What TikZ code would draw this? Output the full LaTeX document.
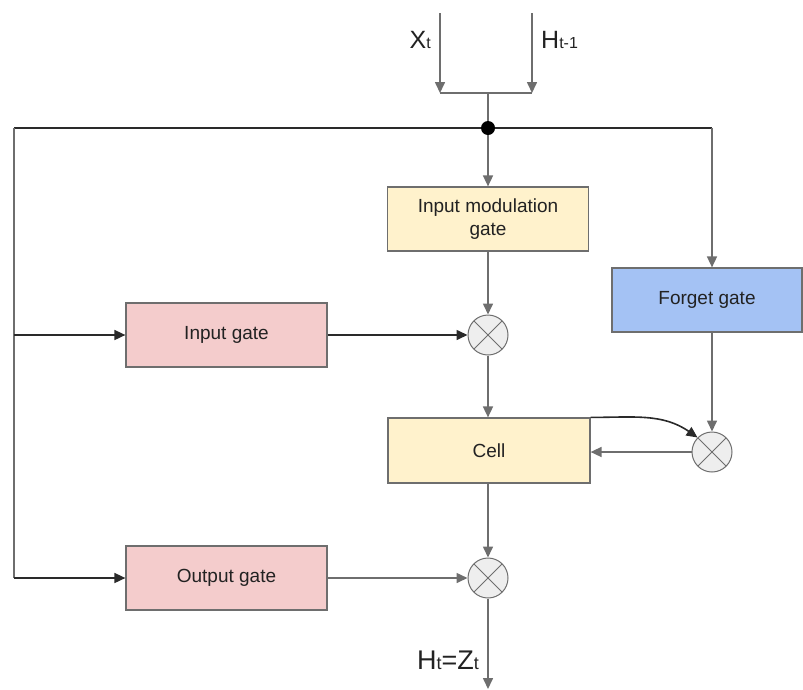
\documentclass[tikz,border=0pt]{standalone}
\usepackage{fontspec}
\setmainfont{Liberation Sans}
\usetikzlibrary{arrows.meta}
\definecolor{lgray}{HTML}{6E6E6E}
\definecolor{dgray}{HTML}{2A2A2A}
\definecolor{yel}{HTML}{FFF2CC}
\definecolor{pinkc}{HTML}{F4CCCC}
\definecolor{bluec}{HTML}{A4C2F4}
\definecolor{mulc}{HTML}{EEEEEE}
\definecolor{txt}{HTML}{222222}
\tikzset{
  box/.style={draw=lgray, line width=1.2pt, minimum width=201pt, minimum height=64pt, inner sep=0pt, align=center, text=txt, font=\fontsize{19}{23}\selectfont},
  mul/.style={circle, draw=lgray, fill=mulc, line width=1pt, minimum size=40pt, inner sep=0pt,
    path picture={\draw[lgray, line width=1pt] (path picture bounding box.north west) -- (path picture bounding box.south east)
      (path picture bounding box.north east) -- (path picture bounding box.south west);}},
  gline/.style={draw=lgray, line width=1.6pt},
  kline/.style={draw=dgray, line width=1.6pt},
  garrow/.style={gline, -{Triangle[width=10pt,length=11pt]}},
  karrow/.style={kline, -{Triangle[width=10pt,length=11pt]}},
  lbl/.style={inner sep=0pt, anchor=base east, text=txt},
}
\begin{document}
\begin{tikzpicture}[x=1pt, y=-1pt]
\useasboundingbox (0,0) rectangle (803,689);
% coordinates
\coordinate (xtop) at (440,13);
\coordinate (htop) at (532,13);
\coordinate (xa) at (440,93);
\coordinate (hb) at (532,93);
\coordinate (bm) at (488,93);
\coordinate (tl) at (14,128);
\coordinate (tr) at (712,128);
\coordinate (li) at (14,335);
\coordinate (bl) at (14,578);
\coordinate (out) at (488,689);
% nodes
\node[circle, fill=black, inner sep=0pt, minimum size=14pt] (dot) at (488,128) {};
\node[box, fill=yel] (img) at (488,219) {Input modulation\\gate};
\node[box, fill=bluec, minimum width=190pt] (forget) at (707,300) {Forget gate};
\node[box, fill=pinkc] (input) at (226.5,335) {Input gate};
\node[mul] (m1) at (488,335) {};
\node[box, fill=yel, minimum width=202pt, minimum height=65pt] (cell) at (489,450.5) {Cell};
\node[mul] (m2) at (712,452) {};
\node[box, fill=pinkc] (output) at (226.5,578) {Output gate};
\node[mul] (m3) at (488,578) {};
% labels
\node[lbl] (xl) at (431,48) {{\fontsize{25}{25}\selectfont X}{\fontsize{16}{16}\selectfont t}};
\node[lbl, anchor=base west] (hl) at (541,48) {{\fontsize{25}{25}\selectfont H}{\fontsize{16}{16}\selectfont t-1}};
\node[lbl] (hz) at (479,669) {{\fontsize{27}{27}\selectfont H}{\fontsize{18}{18}\selectfont t}{\fontsize{27}{27}\selectfont =Z}{\fontsize{18}{18}\selectfont t}};
% connectors
\draw[garrow] (xtop) -- (xa);
\draw[garrow] (htop) -- (hb);
\draw[gline] (xa) -- (hb);
\draw[gline] (bm) -- (dot);
\draw[kline] (tl) -- (dot);
\draw[kline] (dot) -- (tr);
\draw[garrow] (tr) -- (tr |- forget.north);
\draw[garrow] (dot) -- (img.north);
\draw[gline] (tl) -- (bl);
\draw[karrow] (li) -- (input.west);
\draw[karrow] (bl) -- (output.west);
\draw[karrow] (input) -- (m1);
\draw[garrow] (img) -- (m1);
\draw[garrow] (m1) -- (m1 |- cell.north);
\draw[garrow] (forget.south -| m2) -- (m2);
\draw[garrow] (m2.west) -- (m2.west -| cell.east);
\draw[karrow] (cell.north east) to[out=0, in=145] (m2.north west);
\draw[garrow] (m1 |- cell.south) -- (m3);
\draw[garrow] (output) -- (m3);
\draw[garrow] (m3) -- (out);
\end{tikzpicture}
\end{document}
